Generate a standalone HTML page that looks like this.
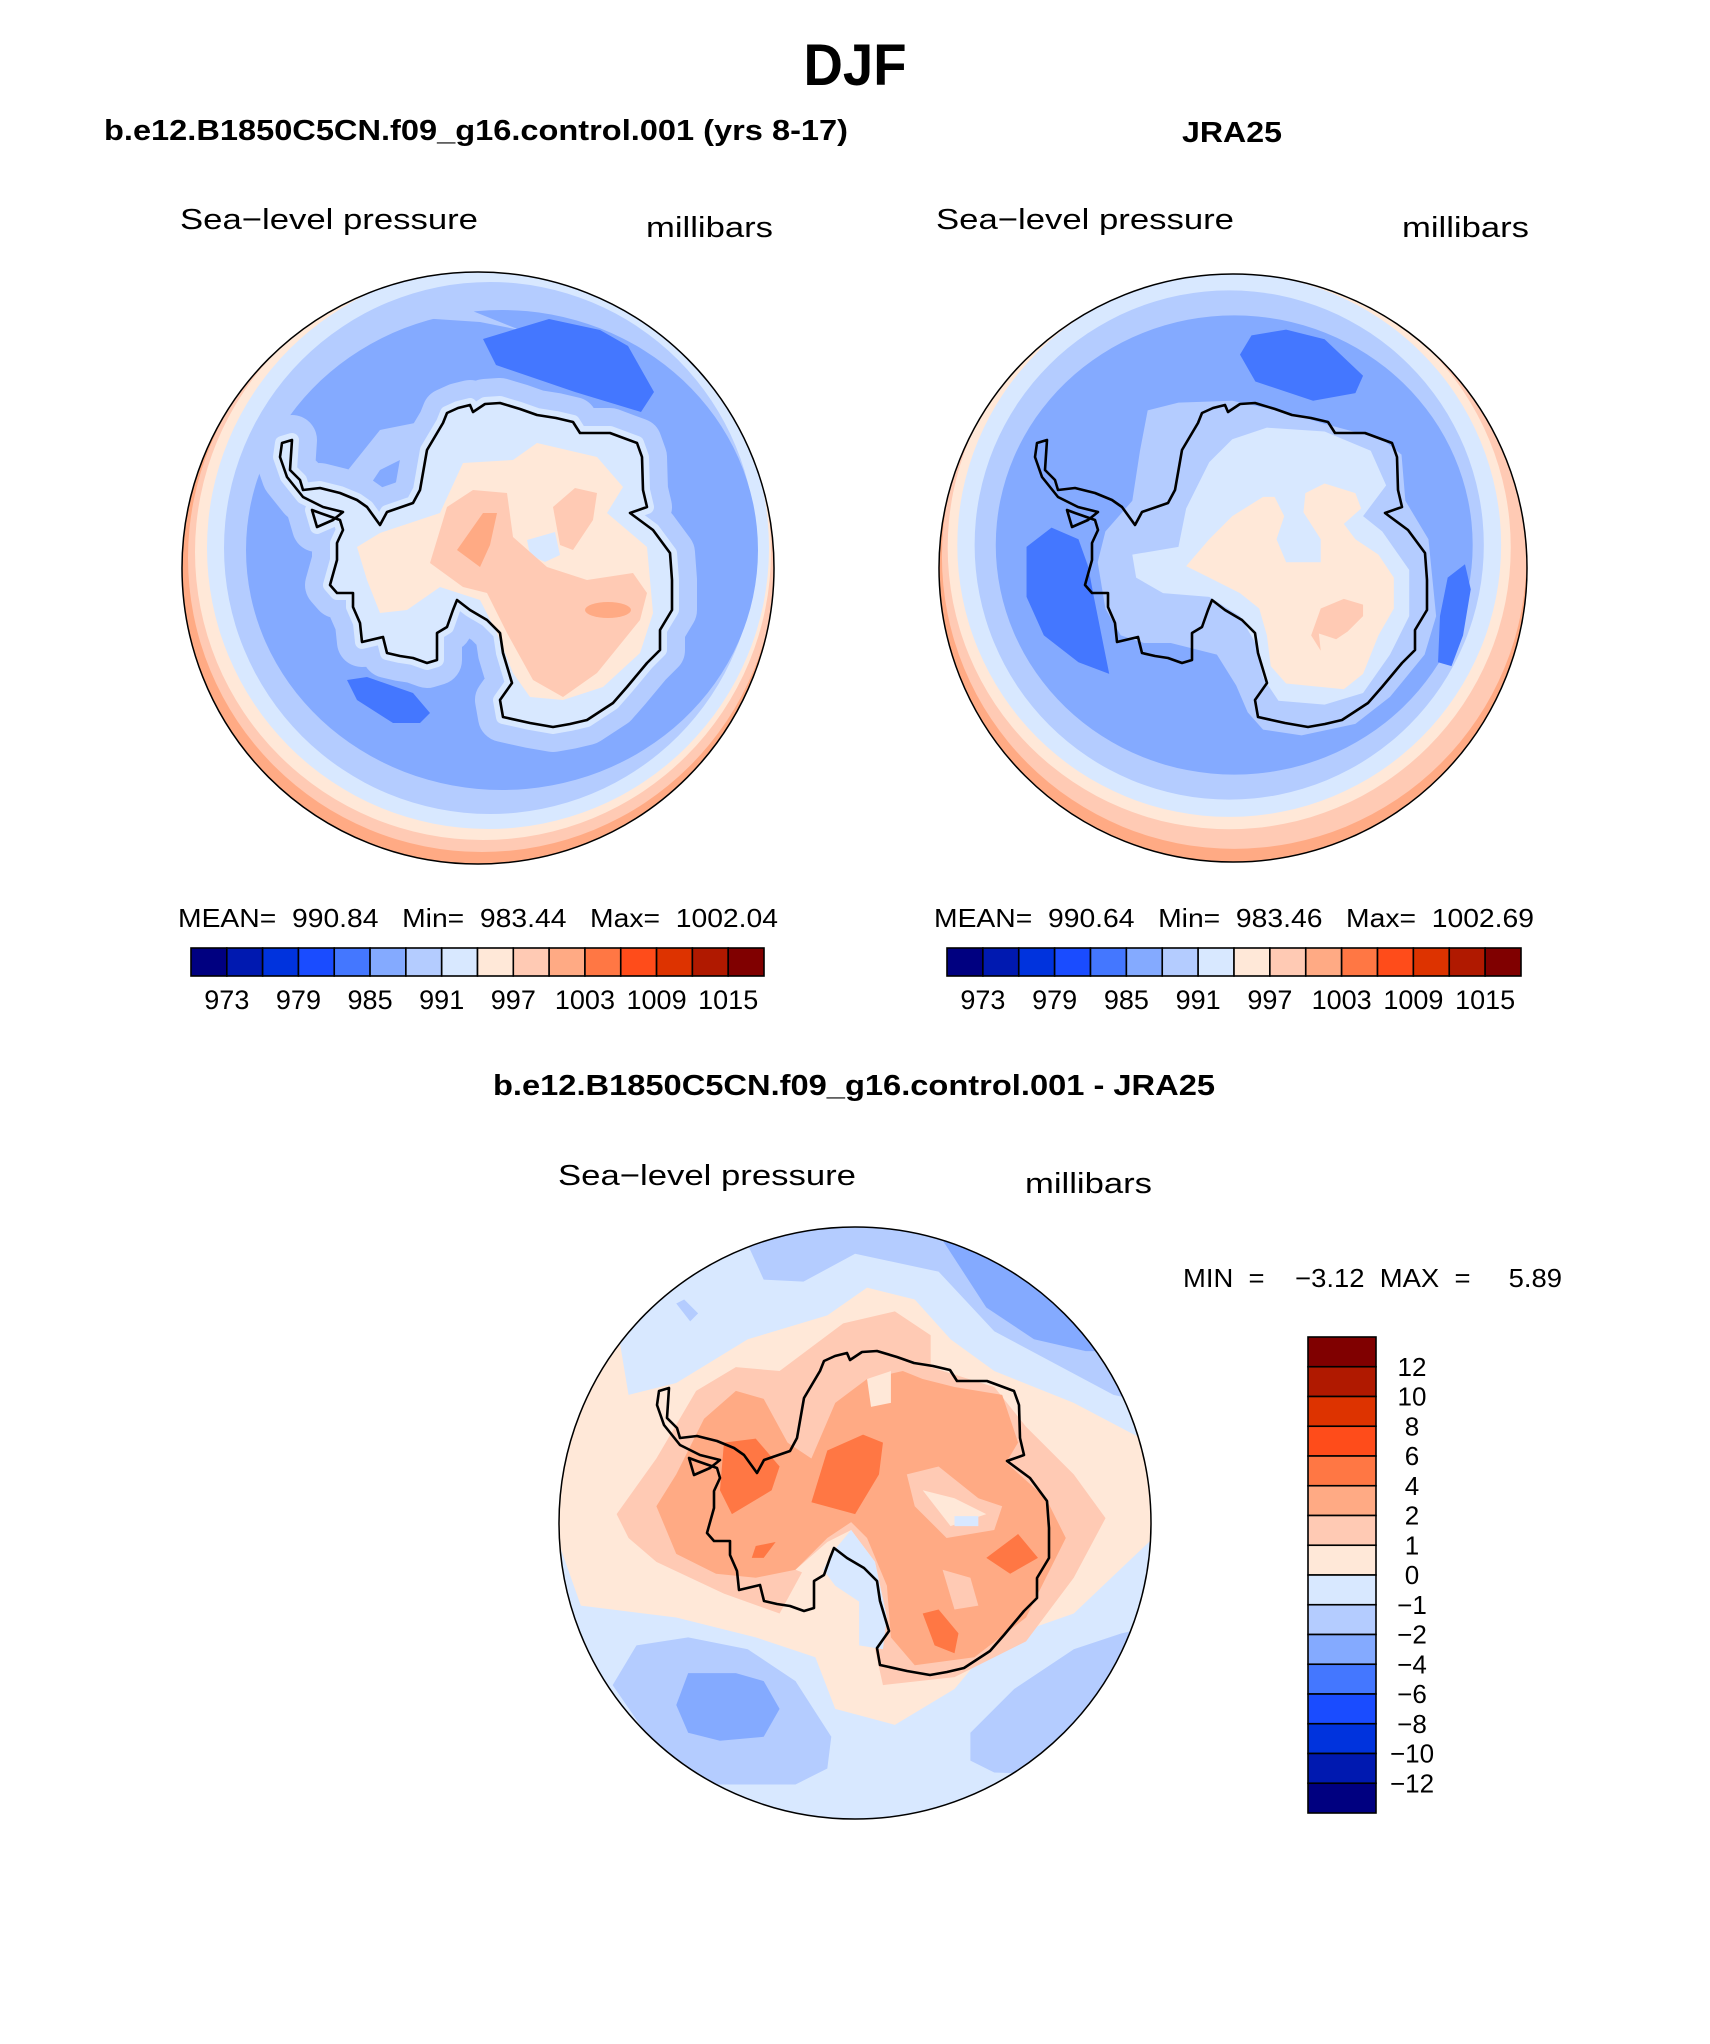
<!DOCTYPE html>
<html><head><meta charset="utf-8"><style>
html,body{margin:0;padding:0;background:#fff}
svg{display:block}
text{font-family:"Liberation Sans",sans-serif;fill:#000;white-space:pre}
.t{font-weight:bold}
</style></head><body>
<svg id="root" width="1710" height="2044" viewBox="0 0 1710 2044" xmlns="http://www.w3.org/2000/svg">
<defs>
<clipPath id="cl"><circle cx="478" cy="568" r="296"/></clipPath>
<clipPath id="cr"><circle cx="1233" cy="568" r="294"/></clipPath>
<clipPath id="cb"><circle cx="858" cy="1533" r="296"/></clipPath>
<path id="coast" d="M292,440 L290,470 300,480 303,490 320,488 340,493 357,500 367,507 380,525 387,512 413,503 420,490 427,450 443,423 447,413 458,408 470,405 473,412 485,404 500,403 520,409 537,415 556,418 573,422 580,433 610,433 637,443 642,457 643,490 647,507 630,513 653,530 670,553 672,580 672,610 660,630 660,650 647,663 627,687 613,703 587,720 570,724 553,727 530,723 503,717 500,700 512,683 503,653 500,633 487,620 470,610 457,600 453,610 447,627 437,633 437,660 427,663 413,658 400,656 387,653 383,637 362,642 360,623 353,607 353,593 337,593 330,585 337,560 337,543 343,530 340,520 320,513 312,510 317,527 333,520 343,512 323,507 303,497 287,477 280,457 282,443 Z"/>
</defs>

<text x="855" y="85" text-anchor="middle" class="t" font-size="58" textLength="103" lengthAdjust="spacingAndGlyphs">DJF</text>
<text x="104" y="140" class="t" font-size="29" textLength="744" lengthAdjust="spacingAndGlyphs">b.e12.B1850C5CN.f09_g16.control.001 (yrs 8-17)</text>
<text x="1232" y="142" text-anchor="middle" class="t" font-size="29" textLength="100" lengthAdjust="spacingAndGlyphs">JRA25</text>
<text x="854" y="1095" text-anchor="middle" class="t" font-size="29" textLength="722" lengthAdjust="spacingAndGlyphs">b.e12.B1850C5CN.f09_g16.control.001 - JRA25</text>

<text x="180" y="229" font-size="29" textLength="298" lengthAdjust="spacingAndGlyphs">Sea−level pressure</text>
<text x="646" y="237" font-size="29" textLength="127" lengthAdjust="spacingAndGlyphs">millibars</text>
<text x="936" y="229" font-size="29" textLength="298" lengthAdjust="spacingAndGlyphs">Sea−level pressure</text>
<text x="1402" y="237" font-size="29" textLength="127" lengthAdjust="spacingAndGlyphs">millibars</text>
<text x="558" y="1185" font-size="29" textLength="298" lengthAdjust="spacingAndGlyphs">Sea−level pressure</text>
<text x="1025" y="1193" font-size="29" textLength="127" lengthAdjust="spacingAndGlyphs">millibars</text>

<!-- LEFT MAP -->
<g clip-path="url(#cl)">
<rect x="170" y="260" width="620" height="620" fill="#ffaa84"/>
<circle cx="482" cy="558" r="294" fill="#ffcab4"/>
<circle cx="483" cy="552" r="288" fill="#ffe8d8"/>
<circle cx="488" cy="548" r="281" fill="#d8e8ff"/>
<circle cx="490" cy="548" r="266" fill="#b4ccff"/>
<ellipse cx="502" cy="550" rx="256" ry="240" fill="#84aaff"/>
<polygon fill="#b4ccff" points="380,330 420,318 480,322 520,330 470,310 440,300 400,300 375,315"/>
<use href="#coast" fill="#b4ccff" stroke="#b4ccff" stroke-width="50" stroke-linejoin="round"/>
<polygon fill="#b4ccff" points="360,500 380,470 420,450 430,420 380,430 340,480"/>
<use href="#coast" fill="#d8e8ff" stroke="#d8e8ff" stroke-width="14" stroke-linejoin="round"/>
<polygon fill="#ffe8d8" points="357,547 380,533 440,513 463,463 513,460 537,443 597,457 623,487 607,513 647,547 653,613 640,653 603,687 563,700 530,697 513,673 497,633 480,600 440,587 407,610 380,613 367,580"/>
<polygon fill="#d8e8ff" points="527,540 555,532 560,555 545,562 530,555"/>
<polygon fill="#ffcab4" points="430,563 447,507 473,490 507,493 513,537 547,567 587,580 633,573 647,593 640,620 597,673 563,697 533,680 507,633 487,593 463,587"/>
<polygon fill="#ffcab4" points="553,507 575,488 597,493 593,520 573,550 560,545"/>
<polygon fill="#ffaa84" points="457,550 483,513 497,513 490,545 480,567"/>
<ellipse cx="608" cy="610" rx="23" ry="8" fill="#ffaa84"/>
<polygon fill="#4477ff" points="483,339 549,319 600,330 628,346 654,392 641,412 575,392 496,365"/>
<polygon fill="#4477ff" points="347,680 367,677 413,693 430,713 420,723 393,723 357,700"/>
<use href="#coast" fill="none" stroke="#000" stroke-width="2.6" stroke-linejoin="round"/>
</g>
<circle cx="478" cy="568" r="296" fill="none" stroke="#000" stroke-width="1.5"/>

<!-- RIGHT MAP -->
<g clip-path="url(#cr)">
<rect x="930" y="260" width="620" height="620" fill="#ffaa84"/>
<g transform="translate(940,270) scale(0.3846)">
<circle cx="765" cy="745" r="760" fill="#ffcab4"/>
<circle cx="752" cy="722" r="732" fill="#ffe8d8"/>
<circle cx="752" cy="715" r="707" fill="#d8e8ff"/>
<circle cx="752" cy="715" r="662" fill="#b4ccff"/>
<ellipse cx="765" cy="715" rx="620" ry="597" fill="#84aaff"/>
<polygon fill="#b4ccff" points="540,365 620,345 760,340 900,370 1000,400 1150,440 1200,480 1210,600 1270,700 1290,900 1260,1000 1170,1110 1080,1180 940,1210 840,1195 800,1150 770,1080 720,1000 600,970 530,970 470,950 430,880 410,760 430,680 500,600 520,470"/>
<polygon fill="#d8e8ff" points="500,740 620,720 640,620 700,500 760,440 850,410 1000,420 1120,470 1160,560 1100,640 1150,680 1220,780 1220,900 1170,1000 1100,1100 1000,1130 880,1120 840,1060 820,970 780,900 700,850 580,840 510,800"/>
<polygon fill="#ffe8d8" points="640,770 700,700 760,640 840,590 870,590 895,640 875,700 900,760 990,760 990,700 945,630 950,580 1000,555 1080,580 1095,620 1050,660 1080,700 1140,740 1180,800 1180,880 1140,950 1100,1050 1050,1090 900,1075 860,1030 850,950 830,880 780,840 700,800"/>
<polygon fill="#ffcab4" points="990,880 1050,855 1100,870 1100,900 1060,940 1030,960 985,945 990,990 965,950"/>
<polygon fill="#4477ff" points="780,220 810,170 900,155 1000,180 1100,275 1080,320 970,340 820,290"/>
<polygon fill="#4477ff" points="225,720 290,670 360,700 385,770 400,850 440,1050 360,1020 270,950 225,850"/>
<polygon fill="#4477ff" points="1320,800 1365,765 1380,830 1360,950 1330,1030 1295,1020 1300,900"/>
</g>
<use href="#coast" transform="translate(755,0)" fill="none" stroke="#000" stroke-width="2.6" stroke-linejoin="round"/>
</g>
<circle cx="1233" cy="568" r="294" fill="none" stroke="#000" stroke-width="1.5"/>

<!-- DIFF MAP -->
<g transform="translate(-3,-10)">
<g clip-path="url(#cb)">
<rect x="550" y="1220" width="620" height="640" fill="#d8e8ff"/>
<g transform="translate(560,1230) scale(0.3975)">
<polygon fill="#b4ccff" points="470,0 470,40 520,150 620,155 750,85 960,130 1100,280 1400,440 1490,460 1600,460 1600,0"/>
<polygon fill="#84aaff" points="950,0 950,20 1080,220 1200,300 1330,330 1500,330 1600,300 1600,0"/>
<polygon fill="#ffe8d8" points="150,260 180,440 300,410 480,300 680,240 780,170 900,200 990,300 1100,380 1300,460 1490,560 1500,800 1300,990 1100,1060 1000,1180 850,1270 700,1230 650,1100 500,1050 300,1000 60,970 0,800 0,400"/>
<polygon fill="#ffcab4" points="150,740 250,600 350,430 450,370 560,380 720,260 850,230 940,290 940,370 1100,420 1180,520 1300,640 1380,750 1300,900 1180,1060 1000,1150 820,1170 800,1080 830,1000 800,860 740,790 680,820 620,880 560,990 420,940 250,860 180,800"/>
<polygon fill="#ffaa84" points="250,720 300,640 370,500 450,430 520,450 580,560 640,600 700,460 780,400 870,380 920,400 1000,420 1120,440 1160,560 1130,610 1230,700 1280,800 1230,900 1180,1000 1050,1100 900,1120 840,1050 830,920 780,800 740,760 680,800 600,880 500,900 400,890 300,840"/>
<polygon fill="#ffcab4" points="880,640 960,620 1060,700 1120,720 1100,780 980,800 900,720"/>
<polygon fill="#ffe8d8" points="920,680 1000,700 1080,740 990,770"/>
<polygon fill="#d8e8ff" points="1000,745 1060,745 1060,770 1000,770"/>
<polygon fill="#ffe8d8" points="780,400 840,380 840,460 790,470"/>
<polygon fill="#ffcab4" points="970,880 1040,900 1060,970 1000,980"/>
<polygon fill="#ff7744" points="680,580 770,540 820,560 810,640 750,740 640,710"/>
<polygon fill="#ff7744" points="420,560 500,550 560,620 540,680 440,740 410,680"/>
<polygon fill="#ff7744" points="1080,850 1160,790 1210,850 1140,890"/>
<polygon fill="#ff7744" points="920,990 960,980 1010,1040 1000,1090 950,1070"/>
<polygon fill="#ff7744" points="500,820 550,810 520,850 490,850"/>
<polygon fill="#ffe8d8" points="600,880 680,810 740,780 800,860 760,960 700,920"/>
<polygon fill="#d8e8ff" points="690,840 740,780 800,860 830,1000 820,1080 760,1070 760,960 700,920 670,880"/>
<polygon fill="#b4ccff" points="140,1170 200,1070 330,1050 480,1080 600,1160 690,1300 680,1380 600,1420 400,1420 250,1330"/>
<polygon fill="#84aaff" points="300,1220 330,1140 450,1140 520,1160 560,1230 520,1300 410,1310 330,1290"/>
<polygon fill="#b4ccff" points="1040,1290 1150,1180 1300,1080 1420,1040 1600,1000 1600,1600 1400,1400 1100,1390 1040,1360"/>
<polygon fill="#b4ccff" points="300,210 320,200 355,235 335,255"/>
</g>
<use href="#coast" transform="translate(380,958)" fill="none" stroke="#000" stroke-width="2.6" stroke-linejoin="round"/>
</g>
<circle cx="858" cy="1533" r="296" fill="none" stroke="#000" stroke-width="1.5"/>
</g>

<text x="178" y="927" font-size="26" textLength="600" lengthAdjust="spacingAndGlyphs">MEAN=  990.84   Min=  983.44   Max=  1002.04</text>
<text x="934" y="927" font-size="26" textLength="600" lengthAdjust="spacingAndGlyphs">MEAN=  990.64   Min=  983.46   Max=  1002.69</text>
<text x="1183" y="1287" font-size="26" textLength="379" lengthAdjust="spacingAndGlyphs">MIN  =    −3.12  MAX  =     5.89</text>

<g id="cbL"></g>
<g id="cbR"></g>
<g id="cbB"></g>
</svg>
<script>
const abslColors = ["#000080","#0019b0","#0033dd","#1a4cff","#4477ff","#84aaff","#b4ccff","#d8e8ff","#ffe8d8","#ffcab4","#ffaa84","#ff7744","#ff4c1a","#dd3300","#b01900","#800000"];
const abslLabels = ["973","979","985","991","997","1003","1009","1015"];
const diffLabels = ["12","10","8","6","4","2","1","0","−1","−2","−4","−6","−8","−10","−12"];
const NS = "http://www.w3.org/2000/svg";
function mk(tag, attrs, parent){const e=document.createElementNS(NS,tag);for(const k in attrs)e.setAttribute(k,attrs[k]);parent.appendChild(e);return e;}
function hbar(id, x0, x1, y0, y1){
  const g=document.getElementById(id);
  const w=(x1-x0)/abslColors.length;
  abslColors.forEach((c,i)=>{
    const r=mk("rect",{x:x0+i*w,y:y0,width:w,height:y1-y0,fill:c,stroke:"#000","stroke-width":1.6},g);
    
    
  });
  abslLabels.forEach((l,k)=>{
    const t=mk("text",{x:x0+w*(2*k+1),y:1009,"text-anchor":"middle","font-size":27},g);
    t.textContent=l;
    
    
  });
}
hbar("cbL",191,764,948,976);
hbar("cbR",947,1521,948,976);
(function(){
  const g=document.getElementById("cbB");
  const x0=1308,x1=1376,y0=1337,y1=1813;
  const rev=abslColors.slice().reverse();
  const h=(y1-y0)/rev.length;
  rev.forEach((c,i)=>{
    const r=mk("rect",{x:x0,y:y0+i*h,width:x1-x0,height:h,fill:c,stroke:"#000","stroke-width":1.6},g);
    
    
  });
  diffLabels.forEach((l,i)=>{
    const t=mk("text",{x:1412,y:y0+(i+1)*h+9,"text-anchor":"middle","font-size":26},g);
    t.textContent=l;
    
    
  });
})();
</script>
</body></html>
